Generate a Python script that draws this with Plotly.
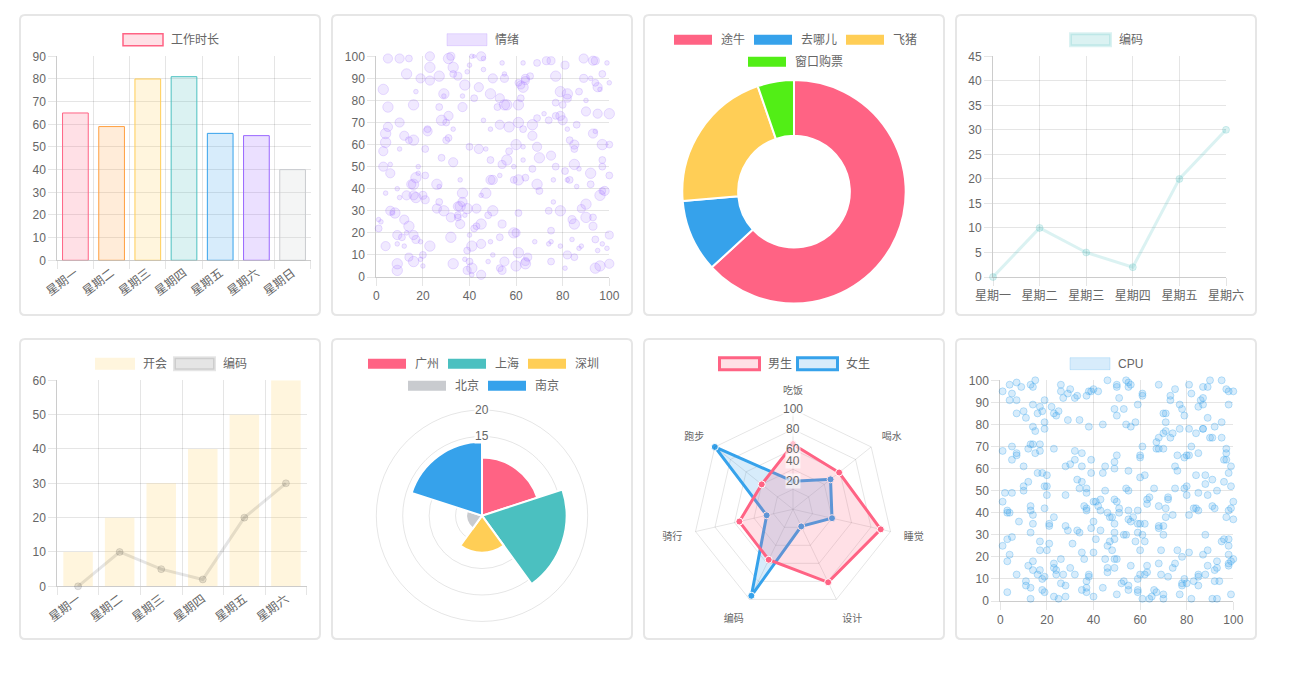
import plotly.graph_objects as go

W, H = 1301, 679
def fx(x): return x / W
def fy(y): return 1 - y / H

FONT = "Liberation Sans, Arial, Noto Sans CJK SC, sans-serif"
TXT = "#666666"
GRID = "rgba(0,0,0,0.1)"
AXL = "rgba(0,0,0,0.2)"

# ---------------- data ----------------
week7 = ["星期一", "星期二", "星期三", "星期四", "星期五", "星期六", "星期日"]
week6 = ["星期一", "星期二", "星期三", "星期四", "星期五", "星期六"]
work_hours = [65, 59, 80, 81, 56, 55, 40]
work_label = "工作时长"

mood_label = "情绪"
bub_x = [5,10,14,23,31,32,45,41,42,46,54,63,69,73,75,89,93,94,99,
         13,19,23,23,27,33,33,35,39,40,46,50,55,55,64,66,81,77,89,92,97,100,
         3,17,29,29,38,37,42,44,49,53,61,62,63,64,62,79,82,82,87,95,94,96,
         5,16,27,37,55,56,61,52,77,80,90,95,100,90,
         5,10,28,30,31,46,53,57,61,67,69,72,74,77,79,80,86,82,
         4,4,3,12,14,16,22,22,30,31,33,49,60,63,63,67,69,83,85,85,93,94,97,100,10,
         21,40,44,47,57,28,33,3,6,6,18,18,21,49,54,56,63,70,75,77,67,59,85,97,97,92,100,81,87,
         17,16,15,26,27,36,49,50,53,59,61,64,69,70,76,82,83,86,92,98,9,4,10,
         13,16,17,20,21,37,47,45,6,8,7,26,27,29,35,36,37,39,43,38,35,50,48,61,74,76,79,88,90,96,97,
         1,2,1,12,14,32,35,36,43,42,45,54,59,60,75,84,85,93,93,90,
         4,9,11,13,12,9,16,17,19,23,32,40,41,45,49,53,68,74,75,79,84,94,97,100,39,20,14,50,61,65,82,85,87,88,95,99,
         9,9,16,19,20,33,38,39,40,41,41,45,48,53,54,55,60,64,64,75,81,94,96,100]
bub_y = [99,99,99,100,99,100,100,100,100,99,97,97,97,98,98,99,98,98,97,
         92,90,95,89,91,95,92,91,93,96,94,90,92,90,90,91,96,91,90,90,92,88,
         85,84,83,82,87,82,81,86,83,81,88,87,86,89,81,84,83,81,84,86,88,85,
         77,78,77,77,78,78,78,77,79,78,75,74,74,80,
         68,70,71,70,73,71,69,68,70,69,72,74,71,73,73,71,69,67,
         65,61,57,64,62,62,66,67,62,63,67,67,60,67,59,64,59,62,60,58,65,66,60,60,58,
         58,59,58,58,57,54,52,50,47,51,50,47,46,53,51,53,53,54,55,50,49,50,51,53,50,47,46,48,49,
         45,42,42,42,41,44,44,44,46,44,44,45,42,39,44,44,44,41,42,39,40,38,36,
         37,37,36,37,35,38,38,37,30,29,29,31,34,30,32,32,34,31,31,28,28,30,28,29,30,34,30,31,33,37,39,
         26,25,22,26,23,27,27,24,23,22,24,24,20,20,21,26,24,27,23,27,
         14,19,18,20,14,15,19,17,16,14,18,19,14,15,16,18,16,15,16,14,17,17,15,19,12,10,9,10,11,9,10,9,13,14,12,13,
         6,3,7,8,5,6,8,3,7,4,1,1,7,4,3,7,5,6,7,7,4,4,5,6]
bub_r = [4,4,3,4,4.5,3.5,4,2,1.5,2,2,2,3,3.5,3.5,4,4,3.5,2,
         4.5,4,4.5,4,4.5,4.5,3,3.5,2,2,2,4,2,3.5,3.5,3,3.5,4.5,3.5,2,3,2,
         4.5,2,4.5,2,4.5,2,3,4,4.5,4,3,3.5,4.5,3.5,3,4.5,4.5,3.5,3,4,3,2,
         4.5,4.5,3,4,4.5,4.5,4.5,3,3,3,4,4,4.5,2,
         4,4,4.5,3,4,2,4,4.5,4.5,4.5,3,2,3,3,4,4,3,2,
         4.5,4.5,4,4,3,4.5,4,3,3,3,2,2,4.5,3,2,4,4,3,4,3,4,2,4.5,3,2,
         3,3,4,2,3,3,4,4,4,2,2,2,3,3,3.5,4.5,2,4.5,4,3,3,2,4.5,3,3,4.5,3,3,2,
         4.5,4.5,4,4.5,2,2,4,4,2,3,4.5,3,4.5,3,2,2,3,2,3,4,2,2,2,
         4,4,4.5,3.5,3.5,4.5,4.5,2,4,4.5,2,4,3,4.5,4,4.5,4,4.5,4,2,3,4.5,3,3,3,2,4.5,3.5,4.5,4.5,3,
         2,2,3,4,4.5,4,3,4,3,3,4.5,3.5,4.5,3.5,3,3.5,4.5,3,3.5,4.5,
         4,4,3,2,2,2,4,3.5,2,4.5,4.5,2,4.5,4,2,3,2,2,2,2,2,3,2,3.5,3,3,3.5,2,4.5,3.5,3.5,3,2,2,2,2,
         4.5,4.5,4.5,2,2,4.5,2,3.5,3,4.5,2,4,2,3,3.5,4,4.5,4.5,3.5,3,2,4.5,4.5,4]

travel_labels = ["途牛", "去哪儿", "飞猪", "窗口购票"]
travel_values = [60, 10, 20, 5]

coding_label = "编码"
coding_values = [0, 10, 5, 2, 20, 30]
meeting_label = "开会"
meeting_values = [10, 20, 30, 40, 50, 60]

cities = ["广州", "上海", "深圳", "北京", "南京"]
city_values = [11, 16, 7, 3, 14]
polar_ticks = [15, 20]

radar_axes = ["吃饭", "喝水", "睡觉", "设计", "编码", "骑行", "跑步"]
boys_label = "男生"
boys = [65, 59, 90, 81, 56, 55, 40]
girls_label = "女生"
girls = [28, 48, 40, 19, 96, 27, 100]
radar_ticks = [20, 40, 60, 80, 100]

cpu_label = "CPU"
cpu_x = [1,4,5,4,7,9,7,13,14,15,14,19,26,26,27,29,30,32,33,37,38,39,40,42,46,50,50,51,54,55,55,56,59,61,61,68,73,73,75,77,78,81,82,85,86,87,87,87,89,90,95,97,98,98,100,
         7,10,11,16,17,18,19,22,23,24,25,29,34,38,44,50,49,53,54,56,58,70,71,71,79,81,84,87,89,95,92,
         1,5,5,7,7,10,12,13,14,14,15,15,17,17,19,23,16,18,28,30,32,32,35,35,39,39,44,45,49,49,50,55,60,60,60,61,62,67,68,67,68,70,70,71,73,74,75,76,76,77,79,80,81,82,85,84,87,90,91,95,96,97,97,97,99,98,88,
         10,10,12,2,1,5,3,3,4,8,13,13,14,14,19,19,20,20,20,21,21,23,28,28,33,34,35,37,37,36,37,37,40,41,40,39,42,43,43,45,46,47,48,49,49,50,51,51,54,55,55,55,56,57,59,59,60,62,63,64,63,66,68,68,68,70,71,71,72,72,74,75,79,80,80,81,83,84,85,85,88,89,91,91,92,93,96,97,98,99,99,100,100,
         1,3,4,5,3,13,17,17,20,21,26,29,31,33,34,35,36,40,41,43,45,46,47,48,49,49,50,49,53,54,58,59,60,61,62,69,70,76,78,81,88,87,89,95,96,98,98,98,99,100,98,98,93,93,92,
         7,3,11,11,12,13,13,14,14,16,17,18,18,19,19,23,23,23,24,24,25,26,27,28,28,30,32,35,37,37,38,38,37,40,44,46,46,49,50,52,53,55,55,56,59,59,59,60,61,62,63,63,64,65,66,67,68,69,70,70,72,74,75,77,78,78,79,80,82,83,85,85,85,88,89,91,92,93,94,99]
cpu_y = [95,98,94,91,99,97,91,98,97,100,89,91,98,95,92,94,96,92,93,93,95,95,96,95,100,98,97,92,100,99,97,98,89,93,94,98,91,93,96,89,87,98,94,88,91,92,97,89,97,100,100,96,95,89,95,
         85,86,83,85,88,86,81,88,85,84,86,82,82,79,80,84,87,87,80,79,81,85,85,81,84,78,76,78,83,81,79,
         68,70,64,67,66,61,69,71,71,79,77,67,68,71,78,69,58,58,61,62,68,64,67,61,64,58,58,61,60,63,66,59,66,65,56,70,57,72,74,69,69,69,76,77,74,76,61,66,59,78,65,66,66,70,67,57,78,74,74,74,64,69,67,64,61,58,57,
         52,50,54,49,45,49,41,40,40,36,43,41,39,35,52,42,52,48,57,35,34,38,48,34,55,51,54,51,49,43,41,42,45,45,36,33,43,46,41,50,40,38,38,46,35,45,42,40,51,50,41,37,36,38,41,35,35,35,46,47,44,51,43,34,33,34,38,42,47,46,39,51,51,52,48,39,42,42,49,41,53,48,55,43,42,50,54,38,41,42,52,45,37,
         25,28,21,29,18,31,27,23,23,26,19,32,26,32,31,22,19,22,28,32,19,25,27,23,31,28,19,19,30,30,27,31,23,30,27,23,30,23,20,22,30,21,23,27,28,28,25,21,18,19,17,16,18,15,14,
         12,4,9,7,16,6,1,18,14,12,14,10,5,4,11,2,17,15,14,12,1,8,12,7,2,15,12,5,6,9,11,12,4,2,6,15,13,15,3,8,9,5,7,16,10,5,4,12,1,12,16,13,1,2,5,4,17,12,3,1,11,15,17,3,8,7,10,8,1,9,11,7,12,12,16,1,9,1,9,3]

# ---------------- styles ----------------
bar_fill = ["rgba(255,99,132,0.2)", "rgba(255,159,64,0.2)", "rgba(255,205,86,0.2)",
            "rgba(75,192,192,0.2)", "rgba(54,162,235,0.2)", "rgba(153,102,255,0.2)",
            "rgba(201,203,207,0.2)"]
bar_line = ["rgb(255,99,132)", "rgb(255,159,64)", "rgb(255,205,86)", "rgb(75,192,192)",
            "rgb(54,162,235)", "rgb(153,102,255)", "rgb(201,203,207)"]
travel_colors = ["#FF6384", "#36A2EB", "#FFCE56", "#52EE16"]
city_colors = ["#FF6384", "#4BC0C0", "#FFCE56", "#C9CBCF", "#36A2EB"]
PURPLE_A = "rgba(153,102,255,0.2)"
PURPLE_B = "rgba(153,102,255,0.3)"
TEAL_A = "rgba(75,192,192,0.2)"
BLUE_A = "rgba(54,162,235,0.2)"
BLUE_B = "rgba(54,162,235,0.3)"
GRAY_A = "rgba(0,0,0,0.1)"
YEL_A = "rgba(255,205,86,0.2)"

tickfont = dict(size=12, color=TXT, family=FONT)

def axis(x0, x1, anchor, **kw):
    d = dict(domain=[fx(x0), fx(x1)], anchor=anchor, showgrid=True, gridcolor=GRID, gridwidth=1,
             showline=True, linecolor=AXL, linewidth=1, ticks="outside", ticklen=8,
             tickcolor=GRID, tickfont=tickfont, zeroline=False, fixedrange=True, automargin=False)
    d.update(kw)
    return d

def yaxis(y_bottom, y_top, anchor, **kw):
    d = dict(domain=[fy(y_bottom), fy(y_top)], anchor=anchor, showgrid=True, gridcolor=GRID,
             gridwidth=1, showline=True, linecolor=AXL, linewidth=1, ticks="outside", ticklen=8,
             tickcolor=GRID, tickfont=tickfont, zeroline=False, fixedrange=True, automargin=False)
    d.update(kw)
    return d

fig = go.Figure()

# Panel 1: bar
fig.add_trace(go.Bar(x=week7, y=work_hours, xaxis="x", yaxis="y",
                     marker=dict(color=bar_fill, line=dict(color=bar_line, width=1)),
                     showlegend=False, hoverinfo="skip"))
# Panel 2: bubble
fig.add_trace(go.Scatter(x=bub_x, y=bub_y, xaxis="x2", yaxis="y2", mode="markers",
                         marker=dict(size=[2.3 * r for r in bub_r], sizemode="diameter",
                                     color=PURPLE_A, line=dict(color=PURPLE_B, width=1)),
                         cliponaxis=False, showlegend=False, hoverinfo="skip"))
# Panel 3: doughnut
fig.add_trace(go.Pie(labels=travel_labels, values=travel_values, hole=0.5, sort=False,
                     direction="clockwise", rotation=0, textinfo="none", automargin=False,
                     marker=dict(colors=travel_colors, line=dict(color="white", width=2)),
                     domain=dict(x=[fx(682.3), fx(905.7)], y=[fy(303.4), fy(80)]),
                     showlegend=False, hoverinfo="skip"))
# Panel 4: line
fig.add_trace(go.Scatter(x=week6, y=coding_values, xaxis="x3", yaxis="y3", mode="lines+markers",
                         line=dict(color=TEAL_A, width=3),
                         marker=dict(size=7, color=TEAL_A, line=dict(color=TEAL_A, width=1)),
                         cliponaxis=False, showlegend=False, hoverinfo="skip"))
# Panel 5: bar + line
fig.add_trace(go.Bar(x=week6, y=meeting_values, xaxis="x4", yaxis="y4",
                     marker=dict(color=YEL_A, line=dict(width=0)),
                     showlegend=False, hoverinfo="skip"))
fig.add_trace(go.Scatter(x=week6, y=coding_values, xaxis="x4", yaxis="y4", mode="lines+markers",
                         line=dict(color=GRAY_A, width=3),
                         marker=dict(size=7, color=GRAY_A, line=dict(color=GRAY_A, width=1)),
                         cliponaxis=False, showlegend=False, hoverinfo="skip"))
# Panel 6: polar area
fig.add_trace(go.Barpolar(r=city_values, theta=cities, subplot="polar",
                          marker=dict(color=city_colors, line=dict(color="white", width=2)),
                          showlegend=False, hoverinfo="skip"))
# Panel 7: radar
fig.add_trace(go.Scatterpolar(r=girls + girls[:1], theta=radar_axes + radar_axes[:1], subplot="polar2",
                              mode="lines+markers", fill="toself", fillcolor="rgba(54,162,235,0.2)",
                              line=dict(color="rgb(54,162,235)", width=3),
                              marker=dict(size=7, color="rgb(54,162,235)", line=dict(color="white", width=1)),
                              showlegend=False, hoverinfo="skip"))
fig.add_trace(go.Scatterpolar(r=boys + boys[:1], theta=radar_axes + radar_axes[:1], subplot="polar2",
                              mode="lines+markers", fill="toself", fillcolor="rgba(255,99,132,0.2)",
                              line=dict(color="rgb(255,99,132)", width=3),
                              marker=dict(size=7, color="rgb(255,99,132)", line=dict(color="white", width=1)),
                              showlegend=False, hoverinfo="skip"))
# Panel 8: scatter
fig.add_trace(go.Scatter(x=cpu_x, y=cpu_y, xaxis="x5", yaxis="y5", mode="markers",
                         marker=dict(size=7, color=BLUE_A, line=dict(color=BLUE_B, width=1)),
                         cliponaxis=False, showlegend=False, hoverinfo="skip"))

# ---------------- cards ----------------
shapes = []
def card(x0, y0, x1, y1, r=5):
    rx, ry = r / W, r / H
    X0, X1, Y0, Y1 = fx(x0), fx(x1), fy(y0), fy(y1)
    p = (f"M {X0+rx},{Y0} L {X1-rx},{Y0} Q {X1},{Y0} {X1},{Y0-ry} "
         f"L {X1},{Y1+ry} Q {X1},{Y1} {X1-rx},{Y1} L {X0+rx},{Y1} Q {X0},{Y1} {X0},{Y1+ry} "
         f"L {X0},{Y0-ry} Q {X0},{Y0} {X0+rx},{Y0} Z")
    shapes.append(dict(type="path", path=p, xref="paper", yref="paper",
                       line=dict(color="#e6e6e6", width=2), fillcolor="white", layer="below"))

for cy in (15, 339):
    for cx in (20, 332, 644, 956):
        card(cx, cy, cx + 300, cy + 300)

# ---------------- legends ----------------
annotations = []
def legend_item(x, yc, label, fill, border, bw):
    shapes.append(dict(type="rect", xref="paper", yref="paper",
                       x0=fx(x), x1=fx(x + 40), y0=fy(yc + 6), y1=fy(yc - 6),
                       fillcolor=fill, line=dict(color=border, width=bw), layer="above"))
    annotations.append(dict(x=fx(x + 46), y=fy(yc), xref="paper", yref="paper", text=label,
                            showarrow=False, xanchor="left", yanchor="middle",
                            font=dict(size=12, color=TXT, family=FONT)))

R1, R2 = 39.7, 61.7
S1, S2 = 363.7, 385.7
legend_item(123, R1, work_label, bar_fill[0], bar_line[0], 1.5)
legend_item(447, R1, mood_label, PURPLE_A, PURPLE_A, 1)
for (x, y), lab, col in zip([(673, R1), (753, R1), (845, R1), (747, R2)], travel_labels, travel_colors):
    legend_item(x, y, lab, col, "white", 2)
legend_item(1070.5, R1, coding_label, TEAL_A, TEAL_A, 3)
legend_item(95, S1, meeting_label, YEL_A, "rgba(0,0,0,0)", 0)
legend_item(174.5, S1, coding_label, GRAY_A, GRAY_A, 3)
for (x, y), lab, col in zip([(367, S1), (447, S1), (527, S1), (407, S2), (487, S2)], cities, city_colors):
    legend_item(x, y, lab, col, "white", 2)
legend_item(719.5, S1, boys_label, "rgba(255,99,132,0.2)", "rgb(255,99,132)", 3)
legend_item(797.5, S1, girls_label, "rgba(54,162,235,0.2)", "rgb(54,162,235)", 3)
legend_item(1070, S1, cpu_label, BLUE_A, BLUE_A, 1)

# polar-area radial tick labels (centre 482,515.7; radius 105.7 for 20)
for v in polar_ticks:
    annotations.append(dict(x=fx(482), y=fy(515.7 - v * 105.7 / 20), xref="paper", yref="paper",
                            text=str(v), showarrow=False, bgcolor="white", borderpad=0,
                            font=dict(size=12, color=TXT, family=FONT)))
# radar tick labels (centre 793,509.3; radius 100 for 100)
for v in radar_ticks:
    annotations.append(dict(x=fx(793), y=fy(509.3 - v * 100 / 100), xref="paper", yref="paper",
                            text=str(v), showarrow=False, bgcolor="rgba(255,255,255,0.6)", borderpad=0,
                            font=dict(size=12, color=TXT, family=FONT)))

fig.update_layout(
    width=W, height=H, margin=dict(l=0, r=0, t=0, b=0, pad=0, autoexpand=False),
    paper_bgcolor="white", plot_bgcolor="rgba(0,0,0,0)",
    font=dict(family=FONT, size=12, color=TXT),
    bargap=0.29, showlegend=False,
    xaxis=axis(57.3, 310.7, "y", type="category", tickson="boundaries", tickangle=-37,
               range=[-0.5, 6.5]),
    yaxis=yaxis(260.3, 56.3, "x", range=[0, 90], dtick=10),
    xaxis2=axis(376.3, 609.3, "y2", range=[0, 100], dtick=20),
    yaxis2=yaxis(277, 56.3, "x2", range=[0, 100], dtick=10),
    xaxis3=axis(993, 1226, "y3", type="category", range=[0, 5]),
    yaxis3=yaxis(277, 56.3, "x3", range=[0, 45], dtick=5),
    xaxis4=axis(57.3, 306.7, "y4", type="category", tickson="boundaries", tickangle=-37,
                range=[-0.5, 5.5]),
    yaxis4=yaxis(586.3, 380.3, "x4", range=[0, 60], dtick=10),
    xaxis5=axis(1000.3, 1233.3, "y5", range=[0, 100], dtick=20),
    yaxis5=yaxis(601, 380.3, "x5", range=[0, 100], dtick=10),
    polar=dict(domain=dict(x=[fx(376.3), fx(587.7)], y=[fy(621.4), fy(410)]),
               bgcolor="rgba(0,0,0,0)", bargap=0,
               angularaxis=dict(direction="clockwise", rotation=54, showgrid=False,
                                showticklabels=False, ticks="", showline=True,
                                linecolor=GRID, linewidth=1),
               radialaxis=dict(range=[0, 20], tickvals=[5, 10, 15], gridcolor=GRID,
                               showticklabels=False, showline=False, ticks="")),
    polar2=dict(domain=dict(x=[fx(693), fx(893)], y=[fy(609.3), fy(409.3)]),
                bgcolor="rgba(0,0,0,0)", gridshape="linear",
                angularaxis=dict(direction="clockwise", rotation=90, type="category",
                                 gridcolor=GRID, showline=True, linecolor=GRID,
                                 ticks="outside", ticklen=11, tickcolor="rgba(0,0,0,0)",
                                 tickfont=dict(size=10, color=TXT, family=FONT)),
                radialaxis=dict(range=[0, 100], tickvals=[20, 40, 60, 80], gridcolor=GRID,
                                showticklabels=False, showline=False, ticks="")),
    shapes=shapes, annotations=annotations,
)

fig.write_html("out.html", config={"displayModeBar": False, "staticPlot": True},
               post_script="document.body.style.margin='0px';document.body.style.overflow='hidden';")
